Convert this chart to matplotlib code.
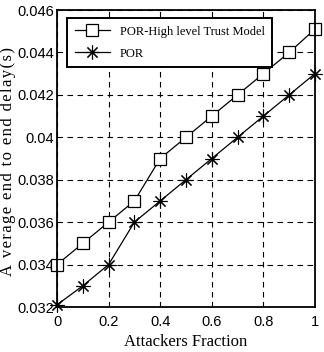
import matplotlib
matplotlib.use("Agg")
import matplotlib.pyplot as plt

fraction = [0, 0.1, 0.2, 0.3, 0.4, 0.5, 0.6, 0.7, 0.8, 0.9, 1.0]
delay_trust = [0.034, 0.035, 0.036, 0.037, 0.039, 0.040, 0.041, 0.042, 0.043, 0.044, 0.0451]
delay_por = [0.0321, 0.033, 0.034, 0.036, 0.037, 0.038, 0.039, 0.040, 0.041, 0.042, 0.043]
yticks = [0.032, 0.034, 0.036, 0.038, 0.04, 0.042, 0.044, 0.046]
ytick_labels = ["0.032", "0.034", "0.036", "0.038", "0.04", "0.042", "0.044", "0.046"]
xticks = [0, 0.2, 0.4, 0.6, 0.8, 1]
xtick_labels = ["0", "0.2", "0.4", "0.6", "0.8", "1"]

fig = plt.figure(figsize=(3.24, 3.52), dpi=100)
ax = fig.add_axes([57 / 324, 45 / 352, 258 / 324, 297 / 352])

ax.plot(fraction, delay_trust, color="black", lw=0.9, marker="s", ms=8.5,
        mfc="white", mec="black", mew=0.9, label="POR-High level Trust Model", clip_on=False)
# MATLAB style asterisk: plus and cross combined
ax.plot(fraction, delay_por, color="black", lw=0.9, marker=(8, 2, 0), ms=10,
        mec="black", mew=0.8, label="POR", clip_on=False)

ax.set_xlim(0, 1)
ax.set_ylim(0.032, 0.046)
ax.set_xticks(xticks)
ax.set_xticklabels(xtick_labels)
ax.set_yticks(yticks)
ax.set_yticklabels(ytick_labels)
ax.tick_params(direction="in", length=0, labelsize=10.5)
ax.tick_params(axis="x", pad=6)
ax.tick_params(axis="y", pad=2)
for lab in ax.get_xticklabels() + ax.get_yticklabels():
    lab.set_family("Liberation Sans")
ax.grid(True, color="black", ls=(0, (5, 4)), lw=0.8)
for s in ax.spines.values():
    s.set_linewidth(1.3)

ax.set_xlabel("Attackers Fraction", family="Liberation Serif", fontsize=12, labelpad=3)
ylab = "\u200a".join("A verage end to end delay(s)")
ax.set_ylabel(ylab, family="Liberation Serif", fontsize=12)
ax.yaxis.set_label_coords(-0.158, 0.49)

leg = ax.legend(loc="upper left", bbox_to_anchor=(0.039, 0.973), borderaxespad=0,
                fancybox=False, framealpha=1, edgecolor="black",
                prop={"family": "Liberation Serif", "size": 9},
                handlelength=2.8, borderpad=0.6, labelspacing=0.8)
leg.get_frame().set_linewidth(1.4)

fig.savefig("out.png", dpi=100)
